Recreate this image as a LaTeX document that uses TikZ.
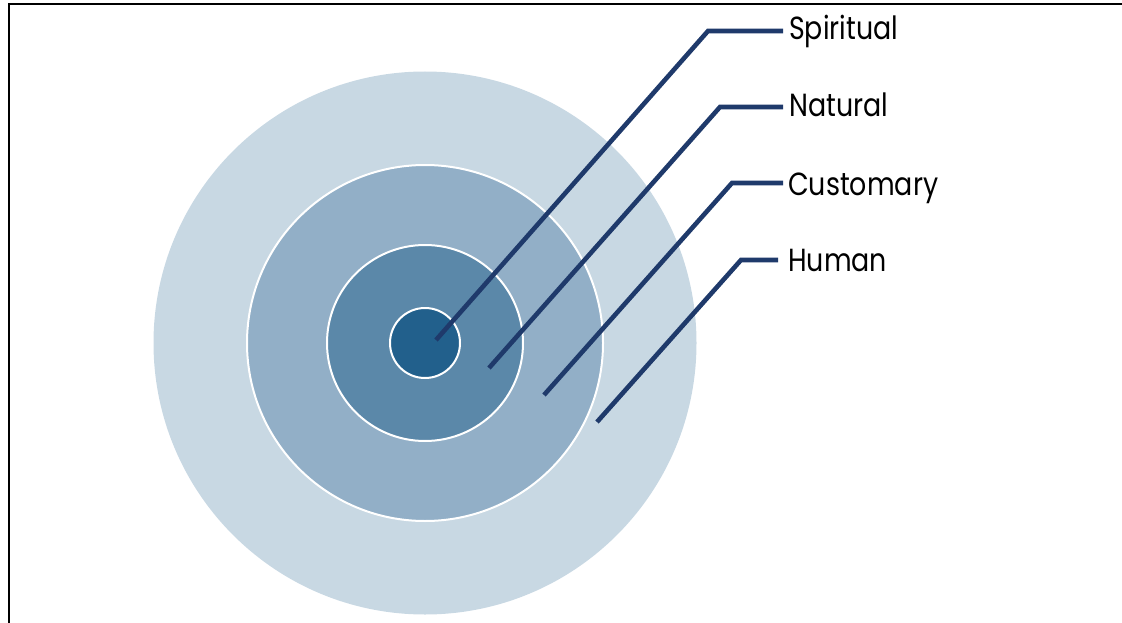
\documentclass[tikz,border=0pt]{standalone}
\usepackage{fontspec}
\setmainfont{Poppins}[FakeStretch=0.84]
\definecolor{ringA}{HTML}{C8D8E3}
\definecolor{ringB}{HTML}{92AFC7}
\definecolor{ringC}{HTML}{5B88A9}
\definecolor{ringD}{HTML}{22608C}
\definecolor{navy}{HTML}{1F3A6B}
\begin{document}
\begin{tikzpicture}[x=1pt,y=-1pt,
  ring/.style={circle,draw=white,line width=2pt,inner sep=0pt},
  leader/.style={draw=navy,line width=4.6pt,line join=miter},
  lbl/.style={anchor=base west,inner sep=0pt,font=\fontsize{32}{34}\selectfont}]
\useasboundingbox (0,0) rectangle (1122,623);
\draw[line width=2pt] (8.5,623) -- (8.5,4.5) -- (1122,4.5);
\node[ring,fill=ringA,draw=none,minimum size=543pt] (r1) at (425,343) {};
\node[ring,fill=ringB,minimum size=356pt] (r2) at (425,343) {};
\node[ring,fill=ringC,minimum size=196pt] (r3) at (425,343) {};
\node[ring,fill=ringD,minimum size=70pt] (r4) at (425,343) {};
% labels
\node[lbl] (ls) at (789,40) {Spiritual};
\node[lbl] (ln) at (789,117) {Natural};
\node[lbl] (lc) at (788,195) {Customary};
\node[lbl] (lh) at (788,271) {Human};
% leader points
\coordinate (s0) at (436,340); \coordinate (s1) at (708,31); \coordinate (s2) at (783,31);
\coordinate (n0) at (489,368); \coordinate (n1) at (720,107); \coordinate (n2) at (783,107);
\coordinate (c0) at (544,395); \coordinate (c1) at (732,183); \coordinate (c2) at (783,183);
\coordinate (h0) at (597,422); \coordinate (h1) at (741,260); \coordinate (h2) at (778,260);
\draw[leader] (s0) -- (s1) -- (s2);
\draw[leader] (n0) -- (n1) -- (n2);
\draw[leader] (c0) -- (c1) -- (c2);
\draw[leader] (h0) -- (h1) -- (h2);
\end{tikzpicture}
\end{document}
